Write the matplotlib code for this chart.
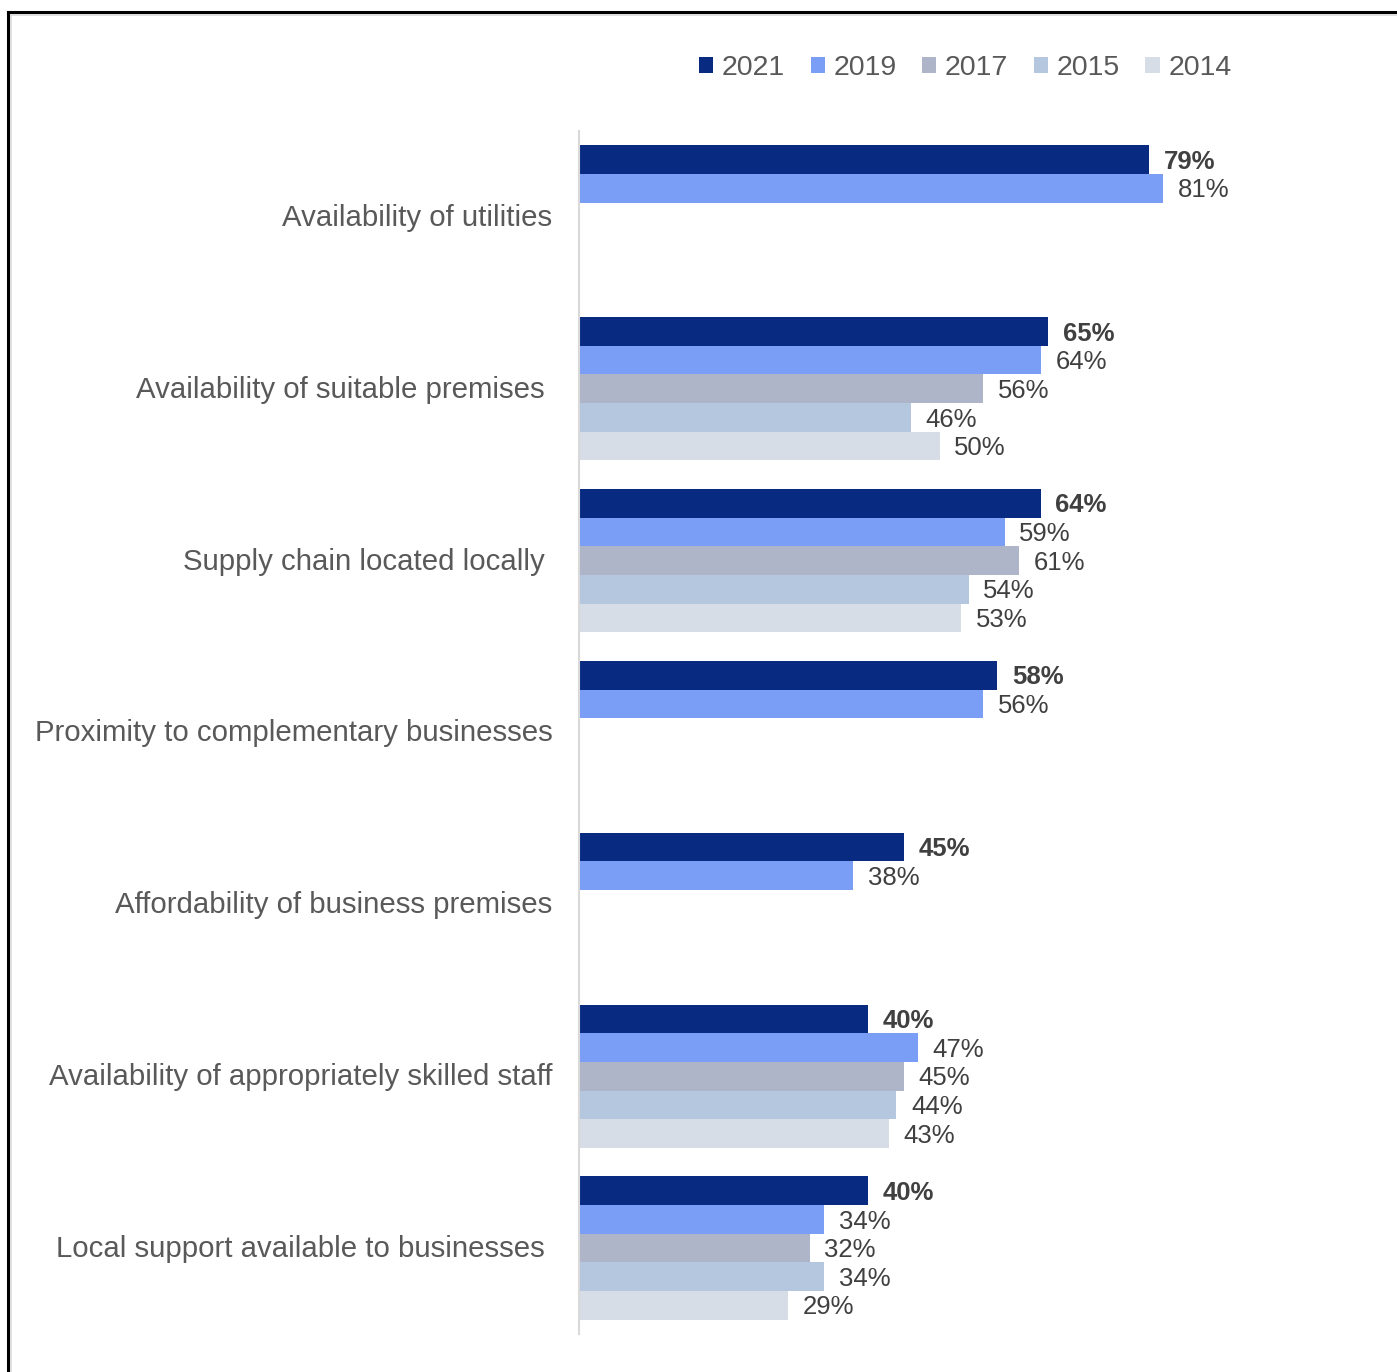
import matplotlib.pyplot as plt
import matplotlib.transforms as mtransforms
from matplotlib.lines import Line2D
from matplotlib.patches import Patch

plt.rcParams['font.family'] = ['Liberation Sans', 'DejaVu Sans']

categories = [
    "Availability of utilities",
    "Availability of suitable premises ",
    "Supply chain located locally ",
    "Proximity to complementary businesses",
    "Affordability of business premises",
    "Availability of appropriately skilled staff",
    "Local support available to businesses ",
]
years = ["2021", "2019", "2017", "2015", "2014"]
colors = ["#082A81", "#7A9EF5", "#AEB5C8", "#B4C7DF", "#D6DDE7"]

# None = question not asked that year
values = {
    "2021": [79, 65, 64, 58, 45, 40, 40],
    "2019": [81, 64, 59, 56, 38, 47, 34],
    "2017": [None, 56, 61, None, None, 45, 32],
    "2015": [None, 46, 54, None, None, 44, 34],
    "2014": [None, 50, 53, None, None, 43, 29],
}

W, H = 1397, 1372
fig = plt.figure(figsize=(W / 100, H / 100), dpi=100)
ax = fig.add_axes([579 / W, 1 - 1334 / H, 721.5 / W, 1203 / H])

slots = 6  # 5 bars + 1 gap per group
for j, yr in enumerate(years):
    for i, v in enumerate(values[yr]):
        if v is None:
            continue
        y = slots * i + 1 + j
        ax.barh(y, v, height=1.0, color=colors[j], linewidth=0)
        ax.annotate(f"{v}%", (v, y), xytext=(10.5, -1.5), textcoords="offset points",
                    va="center", ha="left", fontsize=18.5, color="#404040",
                    fontweight="bold" if yr == "2021" else "normal")

ax.set_xlim(0, 100)
ax.set_ylim(slots * len(categories), 0)
ax.set_yticks([slots * i + 3 for i in range(len(categories))])
ax.set_yticklabels(categories, fontsize=21.2, color="#595959")
ax.tick_params(axis="y", length=0, pad=19)
# nudge category labels up a touch
nudge = mtransforms.ScaledTranslation(0, 1.5 / 72, fig.dpi_scale_trans)
for lbl in ax.get_yticklabels():
    lbl.set_transform(lbl.get_transform() + nudge)
ax.set_xticks([])
for s in ["top", "right", "bottom"]:
    ax.spines[s].set_visible(False)
ax.spines["left"].set_color("#D9D9D9")
ax.spines["left"].set_linewidth(1.5)

handles = [Patch(facecolor=c, edgecolor="none") for c in colors]
fig.legend(handles, years, loc="center left", bbox_to_anchor=(699 / W, 1 - 68 / H),
           ncol=5, frameon=False, fontsize=20.5, labelcolor="#595959",
           handlelength=0.5, handleheight=0.5, handletextpad=0.3,
           columnspacing=0.9, borderaxespad=0, borderpad=0)

# outer frame: black edge with a soft grey inner line
fig.add_artist(Line2D([8 / W, 8 / W], [0, 1 - 12 / H], color="black", lw=2.2))
fig.add_artist(Line2D([8 / W, 1], [1 - 12 / H, 1 - 12 / H], color="black", lw=2.2))
fig.add_artist(Line2D([10.5 / W, 10.5 / W], [0, 1 - 14.5 / H], color="#D9D9D9", lw=1.2))
fig.add_artist(Line2D([10.5 / W, 1], [1 - 14.5 / H, 1 - 14.5 / H], color="#D9D9D9", lw=1.2))

fig.savefig("out.png", dpi=100)
